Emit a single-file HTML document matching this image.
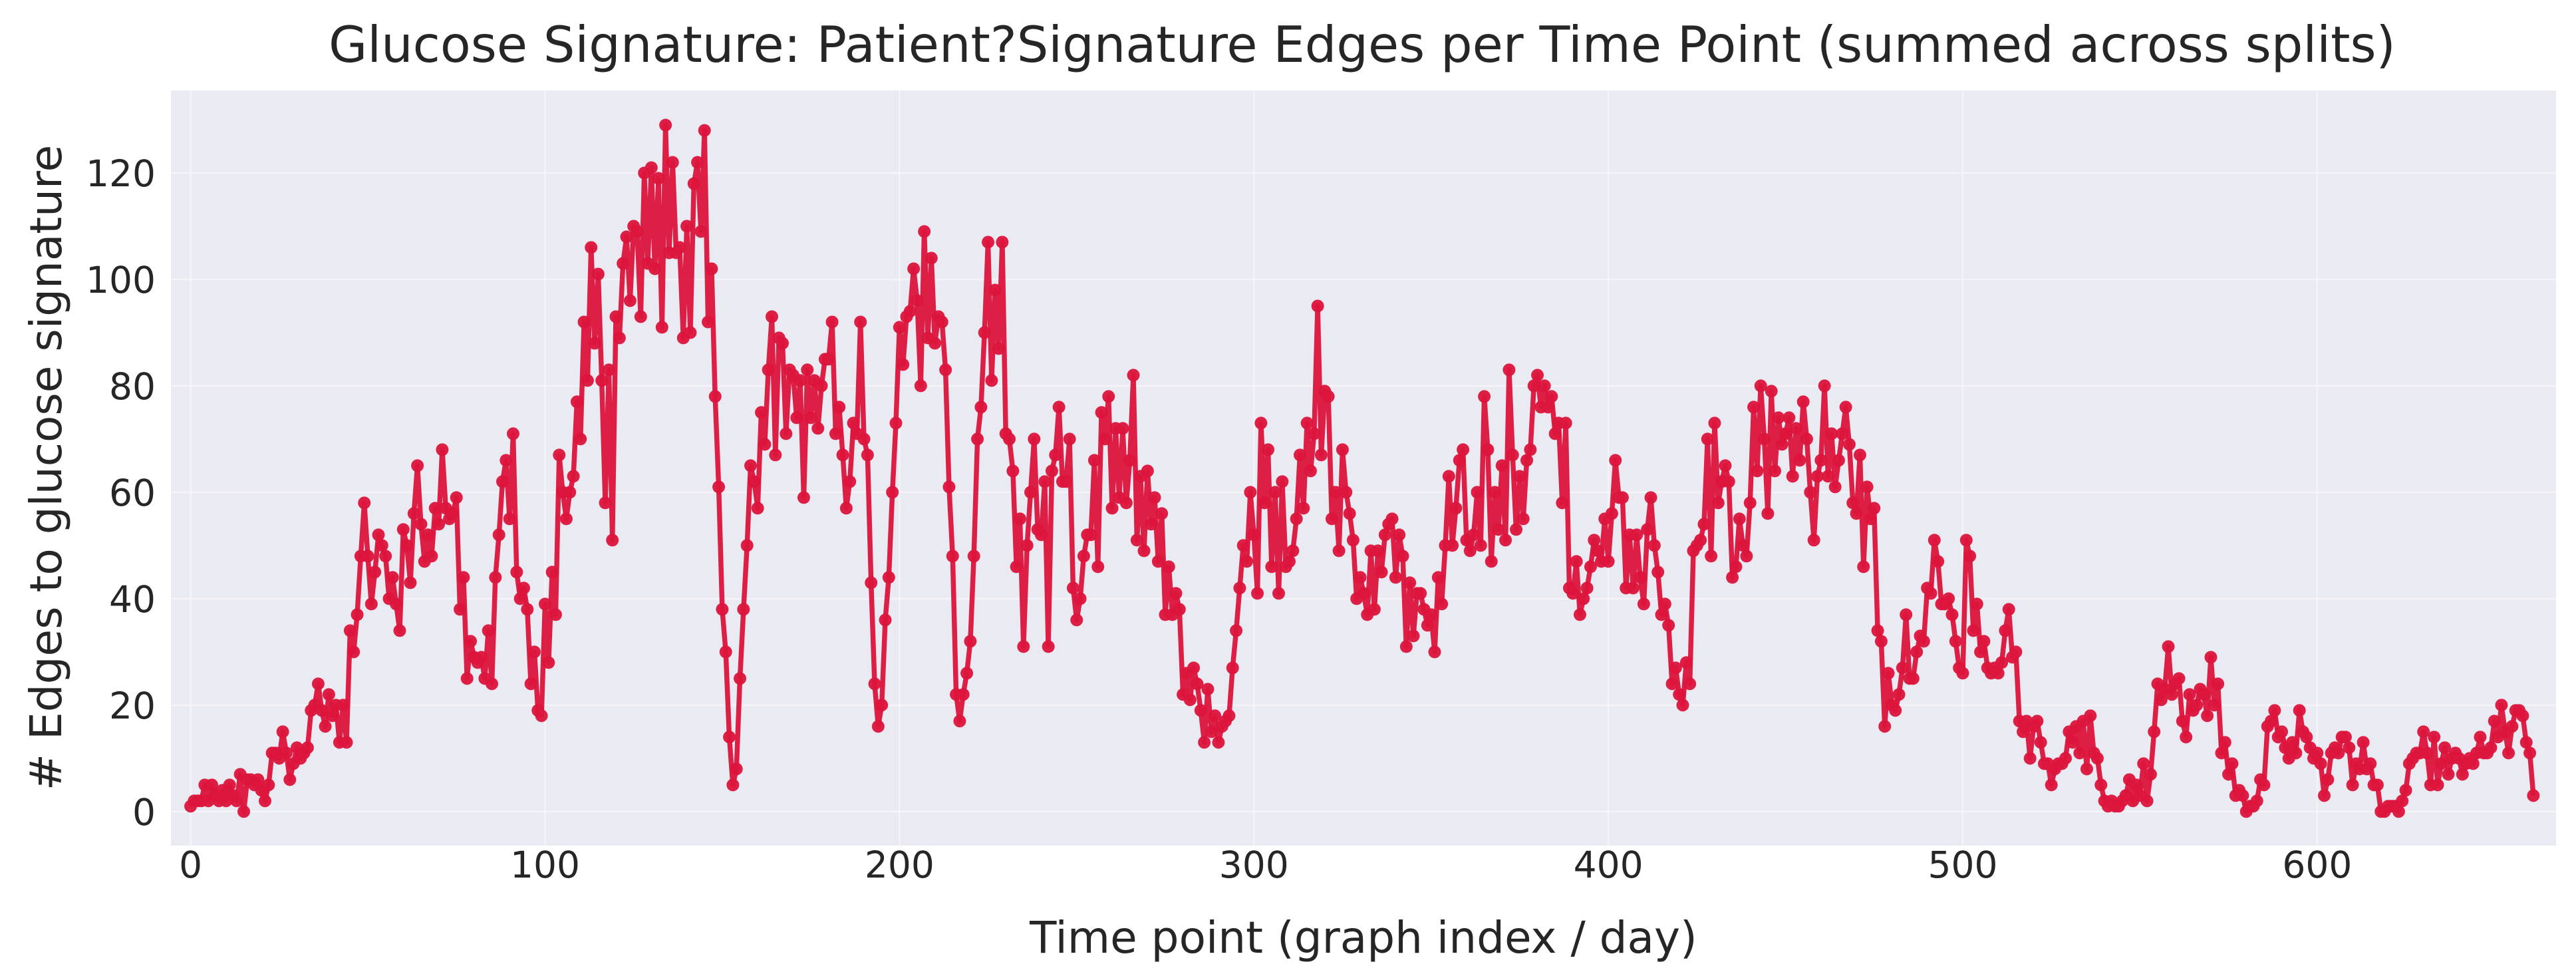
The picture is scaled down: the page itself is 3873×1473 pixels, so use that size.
<!DOCTYPE html>
<html><head><meta charset="utf-8"><style>
html,body{margin:0;padding:0;background:#fff;}
svg{display:block;font-family:"DejaVu Sans","Liberation Sans",sans-serif;}
</style></head><body>
<svg id="chart" width="3873" height="1473" viewBox="0 0 3873 1473" xmlns="http://www.w3.org/2000/svg">
<rect x="0" y="0" width="3873" height="1473" fill="#ffffff"/>
<rect x="257" y="136" width="3586" height="1135" fill="#EAEAF2"/>
<g id="grid"></g>
<g id="xticks"></g>
<g id="yticks"></g>
<g id="series"></g>
<text x="2048" y="93" text-anchor="middle" font-size="75" fill="#262626">Glucose Signature: Patient?Signature Edges per Time Point (summed across splits)</text>
<text x="2050" y="1432" text-anchor="middle" font-size="66" fill="#262626">Time point (graph index / day)</text>
<text transform="translate(92,703) rotate(-90)" text-anchor="middle" font-size="66" fill="#262626"># Edges to glucose signature</text>
</svg>
<script>
const xTicks=[0,100,200,300,400,500,600];
const yTicks=[0,20,40,60,80,100,120];
const edges=[
1,2,2,2,5,2,5,3,2,4,2,5,3,2,7,0,6,6,5,6,4,
2,5,11,11,10,15,11,6,9,12,10,11,12,19,20,24,19,16,22,18,20,13,20,13,34,30,37,48,58,48,39,45,52,50,48,40,44,39,34,53,50,43,56,65,54,
47,52,48,57,54,68,57,55,56,59,38,44,25,32,29,28,29,25,34,24,44,52,62,66,55,71,45,40,42,38,24,30,19,18,39,28,45,37,67,60,55,60,63,77,70,92,81,106,88,101,81,58,83,51,93,89,103,108,96,110,109,93,120,103,121,102,119,91,129,105,
122,105,106,89,110,90,118,122,109,128,92,102,78,61,38,30,14,5,8,25,38,50,65,62,57,75,69,83,93,67,89,88,71,83,82,74,81,59,83,74,81,72,80,85,85,92,71,76,67,57,62,73,71,92,70,67,43,24,16,20,36,44,60,73,91,84,93,94,102,
96,80,109,89,104,88,93,92,83,61,48,22,17,22,26,32,48,70,76,90,107,81,98,87,107,71,70,64,46,55,31,50,60,70,53,52,62,31,64,67,76,62,62,70,42,36,40,48,52,52,66,46,75,70,78,57,72,59,72,58,66,82,51,63,49,64,54,
59,47,56,37,46,37,41,38,22,26,21,27,24,19,13,23,15,18,13,16,17,18,27,34,42,50,47,60,52,41,73,58,68,46,60,41,62,46,47,49,55,67,57,73,64,71,95,67,79,78,55,60,49,68,60,56,51,40,44,41,37,49,38,49,45,52,54,55,
44,52,48,31,43,33,41,41,38,35,37,30,44,39,50,63,50,57,66,68,51,49,52,60,50,78,68,47,60,53,65,51,83,67,53,63,55,66,68,80,82,76,80,76,78,71,73,58,73,42,41,47,37,40,42,46,51,49,47,55,47,56,66,59,59,42,
52,42,52,44,39,53,59,50,45,37,39,35,24,27,22,20,28,24,49,50,51,54,70,48,73,58,62,65,62,44,46,55,50,48,58,76,64,80,70,56,79,64,74,69,71,74,63,72,66,77,70,60,51,63,66,80,63,71,61,66,71,76,69,58,56,67,46,61,
55,57,34,32,16,26,20,19,22,27,37,25,25,30,33,32,42,41,51,47,39,39,40,37,32,27,26,51,48,34,39,30,32,27,26,27,26,28,34,38,29,30,17,15,17,10,16,17,13,9,9,5,8,9,9,10,15,13,16,11,17,8,18,11,10,5,2,1,
2,1,1,2,3,6,2,5,3,9,2,7,15,24,21,23,31,22,24,25,17,14,22,19,20,23,22,18,29,20,24,11,13,7,9,3,4,3,0,1,1,2,6,5,16,17,19,14,15,12,10,13,11,19,15,14,12,10,11,9,3,
6,11,12,11,14,14,12,5,9,8,13,8,9,5,5,0,0,1,1,1,0,2,4,9,10,11,11,15,11,5,14,5,9,12,7,10,11,10,7,9,10,9,11,14,11,11,12,17,14,20,15,11,16,19,19,18,13,11,3
];
const NS='http://www.w3.org/2000/svg';
const L=257,R=3843,T=136,B=1271;
const XMIN=-5.55,XMAX=667.4,YMIN=-6.4,YMAX=135.5;
function sx(v){return L+(v-XMIN)/(XMAX-XMIN)*(R-L);}
function sy(v){return B-(v-YMIN)/(YMAX-YMIN)*(B-T);}
function mk(tag,attrs,parent){const e=document.createElementNS(NS,tag);for(const k in attrs)e.setAttribute(k,attrs[k]);parent.appendChild(e);return e;}
const grid=document.getElementById('grid');
const xg=document.getElementById('xticks');
const yg=document.getElementById('yticks');
xTicks.forEach(t=>{
  const l=mk('line',{x1:sx(t),x2:sx(t),y1:T,y2:B,stroke:'#ffffff','stroke-width':2.5,'stroke-opacity':0.45},grid);
  
  
  const tx=mk('text',{x:sx(t),y:1319,'text-anchor':'middle','font-size':55,fill:'#262626'},xg);
  tx.textContent=t;
  
  
});
yTicks.forEach(t=>{
  const l=mk('line',{x1:L,x2:R,y1:sy(t),y2:sy(t),stroke:'#ffffff','stroke-width':2.5,'stroke-opacity':0.45},grid);
  
  
  const tx=mk('text',{x:234,y:sy(t)+20,'text-anchor':'end','font-size':55,fill:'#262626'},yg);
  tx.textContent=t;
  
  
});
const g=document.getElementById('series');
let d='';
edges.forEach((v,i)=>{d+=(i?'L':'M')+sx(i).toFixed(1)+' '+sy(v).toFixed(1);});
const path=mk('path',{d:d,fill:'none',stroke:'#DC143C','stroke-width':7.5,'stroke-linejoin':'round','stroke-opacity':0.95},g);


edges.forEach((v,i)=>{
  const c=mk('circle',{cx:sx(i),cy:sy(v),r:9.5,fill:'#DC143C','fill-opacity':0.95},g);
  
  
});
</script>
</body></html>
